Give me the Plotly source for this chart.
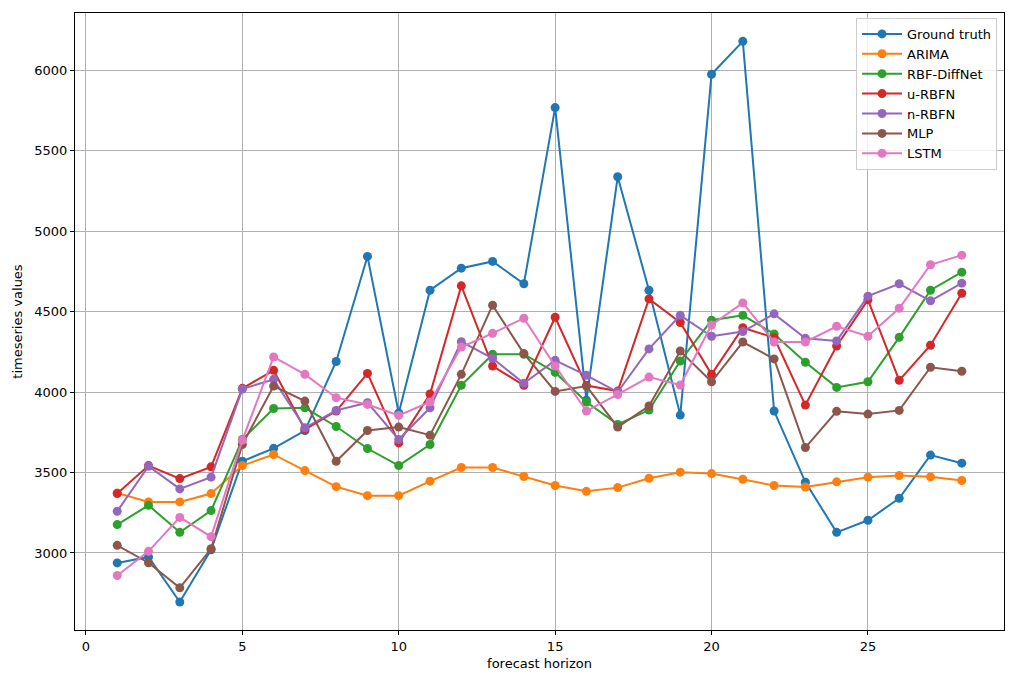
import plotly.graph_objects as go

horizon = list(range(1, 29))

ground_truth = [2938, 2975, 2695, 3020, 3570, 3650, 3760, 4190, 4843, 3870,
                4633, 4770, 4812, 4673, 5768, 3950, 5338, 4633, 3857, 5975,
                6180, 3882, 3440, 3128, 3203, 3340, 3608, 3558]
arima = [3373, 3317, 3317, 3369, 3543, 3612, 3512, 3412, 3356, 3356,
         3446, 3531, 3531, 3475, 3419, 3383, 3406, 3464, 3502, 3493,
         3458, 3419, 3410, 3442, 3471, 3481, 3473, 3450]
rbf_diffnet = [3176, 3296, 3128, 3263, 3705, 3898, 3902, 3786, 3649, 3543,
               3674, 4042, 4235, 4235, 4122, 3938, 3799, 3888, 4193, 4446,
               4477, 4361, 4185, 4029, 4064, 4340, 4633, 4745]
u_rbfn = [3369, 3543, 3462, 3535, 4023, 4135, 3767, 3882, 4116, 3684,
          3988, 4660, 4162, 4042, 4465, 4040, 4006, 4579, 4432, 4110,
          4400, 4338, 3919, 4286, 4573, 4073, 4291, 4614]
n_rbfn = [3259, 3539, 3398, 3471, 4019, 4079, 3778, 3886, 3934, 3705,
          3902, 4313, 4210, 4054, 4197, 4104, 4000, 4268, 4477, 4347,
          4376, 4486, 4334, 4318, 4596, 4673, 4567, 4677]
mlp = [3047, 2939, 2783, 3026, 3674, 4037, 3944, 3570, 3761, 3782,
       3732, 4110, 4540, 4239, 4004, 4037, 3782, 3913, 4255, 4064,
       4311, 4206, 3655, 3880, 3863, 3886, 4154, 4129]
lstm = [2860, 3010, 3221, 3101, 3701, 4218, 4110, 3965, 3923, 3855,
        3938, 4280, 4365, 4459, 4162, 3882, 3985, 4093, 4044, 4417,
        4554, 4311, 4311, 4409, 4347, 4521, 4791, 4851]

series = [
    ("Ground truth", ground_truth, "#1f77b4"),
    ("ARIMA", arima, "#ff7f0e"),
    ("RBF-DiffNet", rbf_diffnet, "#2ca02c"),
    ("u-RBFN", u_rbfn, "#d62728"),
    ("n-RBFN", n_rbfn, "#9467bd"),
    ("MLP", mlp, "#8c564b"),
    ("LSTM", lstm, "#e377c2"),
]

fig = go.Figure()
for name, values, color in series:
    fig.add_trace(go.Scatter(x=horizon, y=values, mode="lines+markers", name=name,
                             line=dict(color=color, width=2),
                             marker=dict(color=color, size=9)))

axis_style = dict(showline=True, linecolor="black", linewidth=1, mirror=True,
                  ticks="outside", ticklen=4, tickcolor="black", automargin=False,
                  showgrid=True, gridcolor="#b0b0b0", gridwidth=1, zeroline=False,
                  tickfont=dict(size=13, color="black"))

# page body has an 8px margin, so the figure is a bit smaller than the window
fig.update_layout(
    width=1009, height=674,
    margin=dict(l=67, r=13, t=5, b=52),
    paper_bgcolor="white", plot_bgcolor="white",
    font=dict(family="DejaVu Sans", size=13, color="black"),
    xaxis=dict(range=[-0.35, 29.35], tickvals=[0, 5, 10, 15, 20, 25],
               title=dict(text="forecast horizon", standoff=6, font=dict(size=13)),
               **axis_style),
    yaxis=dict(range=[2521, 6356], tickvals=[3000, 3500, 4000, 4500, 5000, 5500, 6000],
               title=dict(text="timeseries values", standoff=8, font=dict(size=13)),
               **axis_style),
    legend=dict(x=0.9925, y=0.992, xanchor="right", yanchor="top",
                bgcolor="rgba(255,255,255,0.8)", bordercolor="#cccccc", borderwidth=1,
                font=dict(size=13), tracegroupgap=0, itemwidth=40),
)

fig.write_html("out.html")
